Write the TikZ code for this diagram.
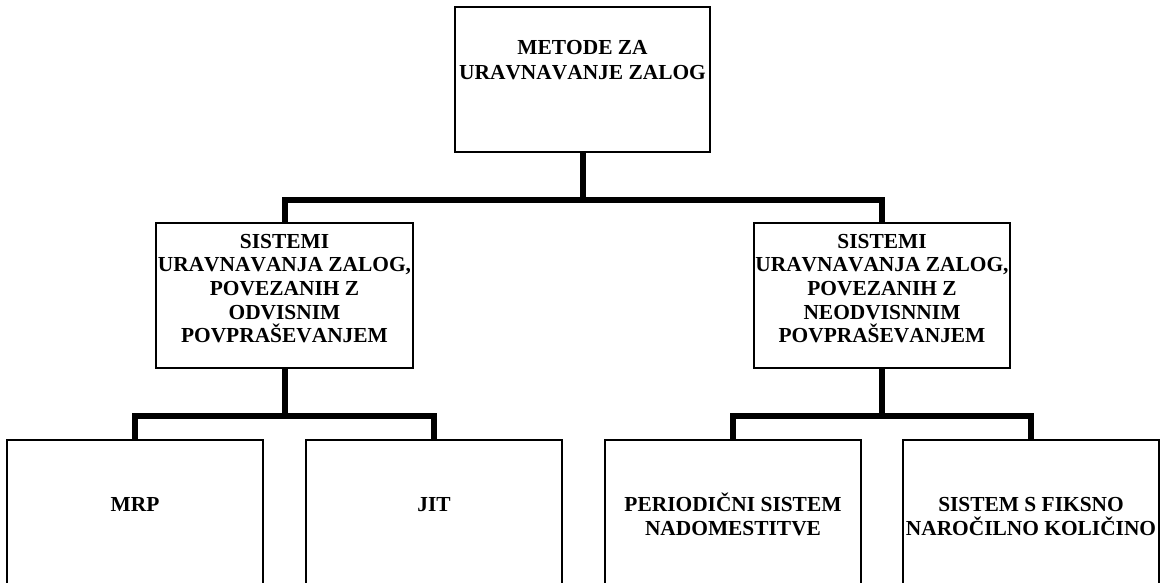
\documentclass[tikz,border=0pt]{standalone}
\usepackage{fontspec}
\setmainfont{Liberation Serif}[Kerning=Off]
\tikzset{
  box/.style={draw, line width=2pt, inner sep=0pt, minimum height=145pt},
  lowbox/.style={draw, line width=2pt, inner sep=0pt, minimum width=256pt, minimum height=200pt},
  conn/.style={line width=6pt, line join=miter},
  lbl/.style={anchor=base, inner sep=0pt, font=\bfseries\fontsize{21.4}{24}\selectfont}
}
\begin{document}
\begin{tikzpicture}[x=1pt, y=-1pt]
\useasboundingbox (0,0) rectangle (1161,583);
\clip (0,0) rectangle (1161,583);

% boxes
\node[box, minimum width=255pt] (top) at (582.5,79.5) {};
\node[box, minimum width=257pt] (ml) at (284.5,295.5) {};
\node[box, minimum width=256pt] (mr) at (882,295.5) {};
\node[lowbox] (b1) at (135,540) {};
\node[lowbox] (b2) at (434,540) {};
\node[lowbox] (b3) at (733,540) {};
\node[lowbox] (b4) at (1031,540) {};

% junctions of the tree
\coordinate (hubA) at (582.5,200);
\coordinate (hubB) at (284.5,416);
\coordinate (hubC) at (882,416);

% connectors
\draw[conn] (top.south) -- (hubA);
\draw[conn] (ml.north) |- (hubA) -| (mr.north);
\draw[conn] (ml.south) -- (hubB);
\draw[conn] (b1.north) |- (hubB) -| (b2.north);
\draw[conn] (mr.south) -- (hubC);
\draw[conn] (b3.north) |- (hubC) -| (b4.north);

% labels
\node[lbl] (top-1) at (582.5,55) {METODE ZA};
\node[lbl] (top-2) at (582.5,80) {URAVNAVANJE ZALOG};

\node[lbl] (ml-1) at (284.5,248) {SISTEMI};
\node[lbl] (ml-2) at (284.5,271.7) {URAVNAVANJA ZALOG,};
\node[lbl] (ml-3) at (284.5,295.4) {POVEZANIH Z};
\node[lbl] (ml-4) at (284.5,319.1) {ODVISNIM};
\node[lbl] (ml-5) at (284.5,342.8) {POVPRAŠEVANJEM};

\node[lbl] (mr-1) at (882,248) {SISTEMI};
\node[lbl] (mr-2) at (882,271.7) {URAVNAVANJA ZALOG,};
\node[lbl] (mr-3) at (882,295.4) {POVEZANIH Z};
\node[lbl] (mr-4) at (882,319.1) {NEODVISNNIM};
\node[lbl] (mr-5) at (882,342.8) {POVPRAŠEVANJEM};

\node[lbl] (b1-1) at (135,511) {MRP};
\node[lbl] (b2-1) at (434,511) {JIT};
\node[lbl] (b3-1) at (733,511) {PERIODIČNI SISTEM};
\node[lbl] (b3-2) at (733,535) {NADOMESTITVE};
\node[lbl] (b4-1) at (1031,511) {SISTEM S FIKSNO};
\node[lbl] (b4-2) at (1031,535) {NAROČILNO KOLIČINO};
\end{tikzpicture}
\end{document}
